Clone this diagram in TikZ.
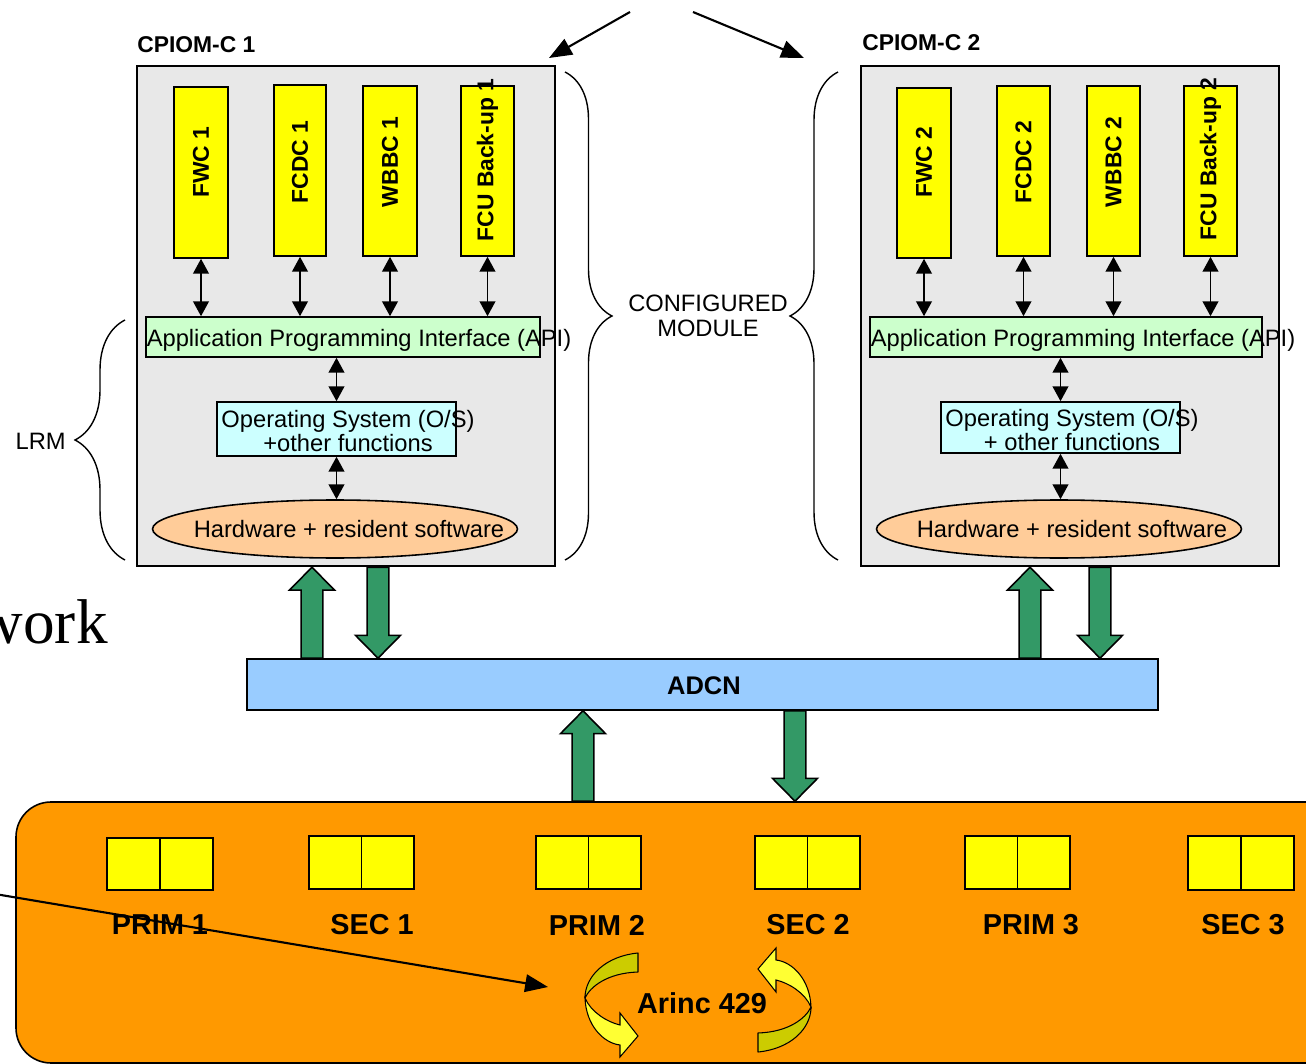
\documentclass[tikz,border=0pt]{standalone}
\usepackage{fontspec}
\setmainfont{Liberation Sans}
\newfontfamily\serifwork{Liberation Serif}
\usetikzlibrary{arrows.meta,decorations.pathreplacing,fit,calc,shapes.geometric}
\definecolor{modgrey}{HTML}{E8E8E8}
\definecolor{appyellow}{HTML}{FFFF00}
\definecolor{apigreen}{HTML}{CCFFCC}
\definecolor{oscyan}{HTML}{CCFFFF}
\definecolor{hwpeach}{HTML}{FFCC99}
\definecolor{adcnblue}{HTML}{99CCFF}
\definecolor{arrowgreen}{HTML}{339966}
\definecolor{netorange}{HTML}{FF9900}
\definecolor{ribbondark}{HTML}{CCCC00}
\definecolor{ribbonlight}{HTML}{FFFF33}
\newcommand\fatarrow[2]{%
  \draw[garrow] let \p1=(#1), \p2=(#2), \n1={ifthenelse(\y2>\y1,1,-1)} in
    ({\x1-6.2pt},{\y1}) -- ({\x1-6.2pt},{\y2-(\n1)*13pt}) -- ({\x1-12.8pt},{\y2-(\n1)*13pt})
    -- (\x2,\y2) -- ({\x1+12.8pt},{\y2-(\n1)*13pt}) -- ({\x1+6.2pt},{\y2-(\n1)*13pt})
    -- ({\x1+6.2pt},{\y1}) -- cycle;}
\newcommand\ribbonarrow{%
  \draw[line width=0.6pt, fill=ribbondark, line join=round]
    (638,953) .. controls (606,956) and (585,976) .. (585,998)
    .. controls (590,987) and (607,973) .. (638,972) -- cycle;
  \draw[line width=0.6pt, fill=ribbonlight, line join=miter]
    (585,998) .. controls (586,1025) and (603,1043) .. (620,1045)
    -- (620,1057) -- (638,1036) -- (620,1013) -- (620,1025)
    .. controls (607,1022) and (591,1012) .. (585,998) -- cycle;}
\begin{document}
\begin{tikzpicture}[x=0.02cm,y=-0.02cm,
  module/.style={draw, line width=1.4pt, fill=modgrey, inner sep=0},
  appbox/.style={draw, line width=0.9pt, fill=appyellow, inner sep=0},
  apilayer/.style={draw, line width=0.9pt, fill=apigreen, inner sep=0},
  oslayer/.style={draw, line width=0.9pt, fill=oscyan, inner sep=0},
  hwlayer/.style={ellipse, draw, line width=0.9pt, fill=hwpeach, inner sep=0,
    minimum width=7.3cm, minimum height=1.16cm},
  txt/.style={inner sep=0, font=\fontsize{13.5}{14.2}\selectfont, align=center},
  apptxt/.style={inner sep=0, rotate=90, font=\bfseries\fontsize{13}{15}\selectfont},
  title/.style={inner sep=0, anchor=west, font=\bfseries\fontsize{13}{15}\selectfont},
  dbl/.style={line width=1pt, {Triangle[length=8.5pt,width=9pt]}-{Triangle[length=8.5pt,width=9pt]}},
  brc/.style={decorate, decoration={brace, amplitude=#1}, line width=0.8pt},
  garrow/.style={draw, line width=0.9pt, fill=arrowgreen, line join=miter},
  bus/.style={draw, line width=0.9pt, fill=adcnblue, inner sep=0,
    font=\bfseries\fontsize{14.5}{16}\selectfont},
  net/.style={draw, line width=0.9pt, fill=netorange, inner sep=0, rounded corners=0.7cm},
  ecu/.style={draw, line width=0.9pt, fill=appyellow, inner sep=0},
  ecutxt/.style={inner sep=0, font=\bfseries\fontsize{16.4}{18}\selectfont},
  pointer/.style={line width=1.2pt, -{Triangle[length=13pt,width=10pt]}}
]
\useasboundingbox (0,0) rectangle (1306,1064);

% ---------- pointers at top ----------
\coordinate (src1) at (630,12);
\coordinate (src2) at (693,12);
\coordinate (tip1) at (549,58);
\coordinate (tip2) at (804,58);
\draw[pointer] (src1) -- (tip1);
\draw[pointer] (src2) -- (tip2);

% ---------- module 1 ----------
\node[title] (t1) at (137,45) {CPIOM-C 1};
\node[module, fit={(137,66) (555,566)}] (m1) {};
\node[appbox, fit={(174,87) (228,258)}] (fwc1) {};
\node[appbox, fit={(274,85) (326,256)}] (fcdc1) {};
\node[appbox, fit={(363,86) (417,256)}] (wbbc1) {};
\node[appbox, fit={(461,86) (514,256)}] (fcu1) {};
\node[apptxt] (fwc1t) at (fwc1.center |- 0,162) {FWC 1};
\node[apptxt] (fcdc1t) at (fcdc1.center |- 0,162) {FCDC 1};
\node[apptxt] (wbbc1t) at (wbbc1.center |- 0,162) {WBBC 1};
\node[apptxt] (fcu1t) at (fcu1.center |- 0,160) {FCU Back-up 1};
\node[apilayer, fit={(146,317) (540,357)}] (api1) {};
\node[txt] (api1t) at (359,340) {Application Programming Interface (API)};
\node[oslayer, fit={(217,402) (456,456)}] (os1) {};
\node[txt] (os1t) at (348,431) {Operating System (O/S)\\+other functions};
\node[hwlayer] (hw1) at (335,529) {};
\node[txt] (hw1t) at (349,529) {Hardware + resident software};
\foreach \b in {fwc1,fcdc1,wbbc1,fcu1}
  \draw[dbl] (\b.south) -- (\b.south |- api1.north);
\draw[dbl] (os1.north |- api1.south) -- (os1.north);
\draw[dbl] (os1.south) -- (os1.south |- hw1.north);

% ---------- module 2 ----------
\node[title] (t2) at (862,43) {CPIOM-C 2};
\node[module, fit={(861,66) (1279,566)}] (m2) {};
\node[appbox, fit={(897,88) (951,258)}] (fwc2) {};
\node[appbox, fit={(997,86) (1050,256)}] (fcdc2) {};
\node[appbox, fit={(1087,86) (1140,256)}] (wbbc2) {};
\node[appbox, fit={(1184,86) (1237,256)}] (fcu2) {};
\node[apptxt] (fwc2t) at (fwc2.center |- 0,162) {FWC 2};
\node[apptxt] (fcdc2t) at (fcdc2.center |- 0,162) {FCDC 2};
\node[apptxt] (wbbc2t) at (wbbc2.center |- 0,162) {WBBC 2};
\node[apptxt] (fcu2t) at (fcu2.center |- 0,159) {FCU Back-up 2};
\node[apilayer, fit={(870,317) (1262,357)}] (api2) {};
\node[txt] (api2t) at (1083,340) {Application Programming Interface (API)};
\node[oslayer, fit={(941,402) (1180,453)}] (os2) {};
\node[txt] (os2t) at (1072,430) {Operating System (O/S)\\+ other functions};
\node[hwlayer] (hw2) at (1059,529) {};
\node[txt] (hw2t) at (1072,529) {Hardware + resident software};
\foreach \b in {fwc2,fcdc2,wbbc2,fcu2}
  \draw[dbl] (\b.south) -- (\b.south |- api2.north);
\draw[dbl] (os2.north |- api2.south) -- (os2.north);
\draw[dbl] (os2.south) -- (os2.south |- hw2.north);

% ---------- braces ----------
\draw[brc=1.0cm] (125,560) -- (125,320);
\node[txt, anchor=east] (lrm) at (66,441) {LRM};
\draw[brc=0.94cm] (565,72) -- (565,560);
\draw[brc=0.96cm] (838,560) -- (838,72);
\node[txt] (cfg) at (708,316) {CONFIGURED\\MODULE};

% ---------- left serif fragment ----------
\node[anchor=base east, inner sep=0, font=\serifwork\fontsize{36}{40}\selectfont] (work) at (108,643) {work};

% ---------- ADCN ----------
\node[bus, fit={(247,659) (1158,710)}] (adcn) {};
\node[inner sep=0, font=\bfseries\fontsize{14.5}{16}\selectfont] (adcnt) at (704,686) {ADCN};

% ---------- network area ----------
\node[net, fit={(16,802) (1340,1063)}] (netw) {};

\coordinate (g1) at (312,0);
\coordinate (g2) at (378,0);
\coordinate (g3) at (1030,0);
\coordinate (g4) at (1100,0);
\coordinate (g5) at (583,0);
\coordinate (g6) at (795,0);
\fatarrow{g1 |- adcn.north}{g1 |- m1.south}
\fatarrow{g2 |- m1.south}{g2 |- adcn.north}
\fatarrow{g3 |- adcn.north}{g3 |- m2.south}
\fatarrow{g4 |- m2.south}{g4 |- adcn.north}
\fatarrow{g5 |- netw.north}{g5 |- adcn.south}
\fatarrow{g6 |- adcn.south}{g6 |- netw.north}

\node[ecu, fit={(107,838) (213,890)}] (p1) {};
\node[ecu, fit={(309,836) (414,889)}] (s1) {};
\node[ecu, fit={(536,836) (641,889)}] (p2) {};
\node[ecu, fit={(755,836) (860,889)}] (s2) {};
\node[ecu, fit={(965,836) (1070,889)}] (p3) {};
\node[ecu, fit={(1188,836) (1294,890)}] (s3) {};
\foreach \b in {p1,s1,p2,s2,p3,s3}
  \draw[line width=0.9pt] (\b.north) -- (\b.south);
\node[ecutxt] (p1t) at (160,925) {PRIM 1};
\node[ecutxt] (s1t) at (372,925) {SEC 1};
\node[ecutxt] (p2t) at (597,925) {PRIM 2};
\node[ecutxt] (s2t) at (808,925) {SEC 2};
\node[ecutxt] (p3t) at (1031,925) {PRIM 3};
\node[ecutxt] (s3t) at (1243,925) {SEC 3};

% ---------- Arinc ribbons ----------
\ribbonarrow
\begin{scope}[rotate around={180:(698,1002.5)}]
\ribbonarrow
\end{scope}
\node[ecutxt] (arinc) at (702,1003) {Arinc 429};

% ---------- pointer from left ----------
\coordinate (lstart) at (-5,894);
\coordinate (lend) at (548,987);
\draw[pointer] (lstart) -- (lend);
\end{tikzpicture}
\end{document}
